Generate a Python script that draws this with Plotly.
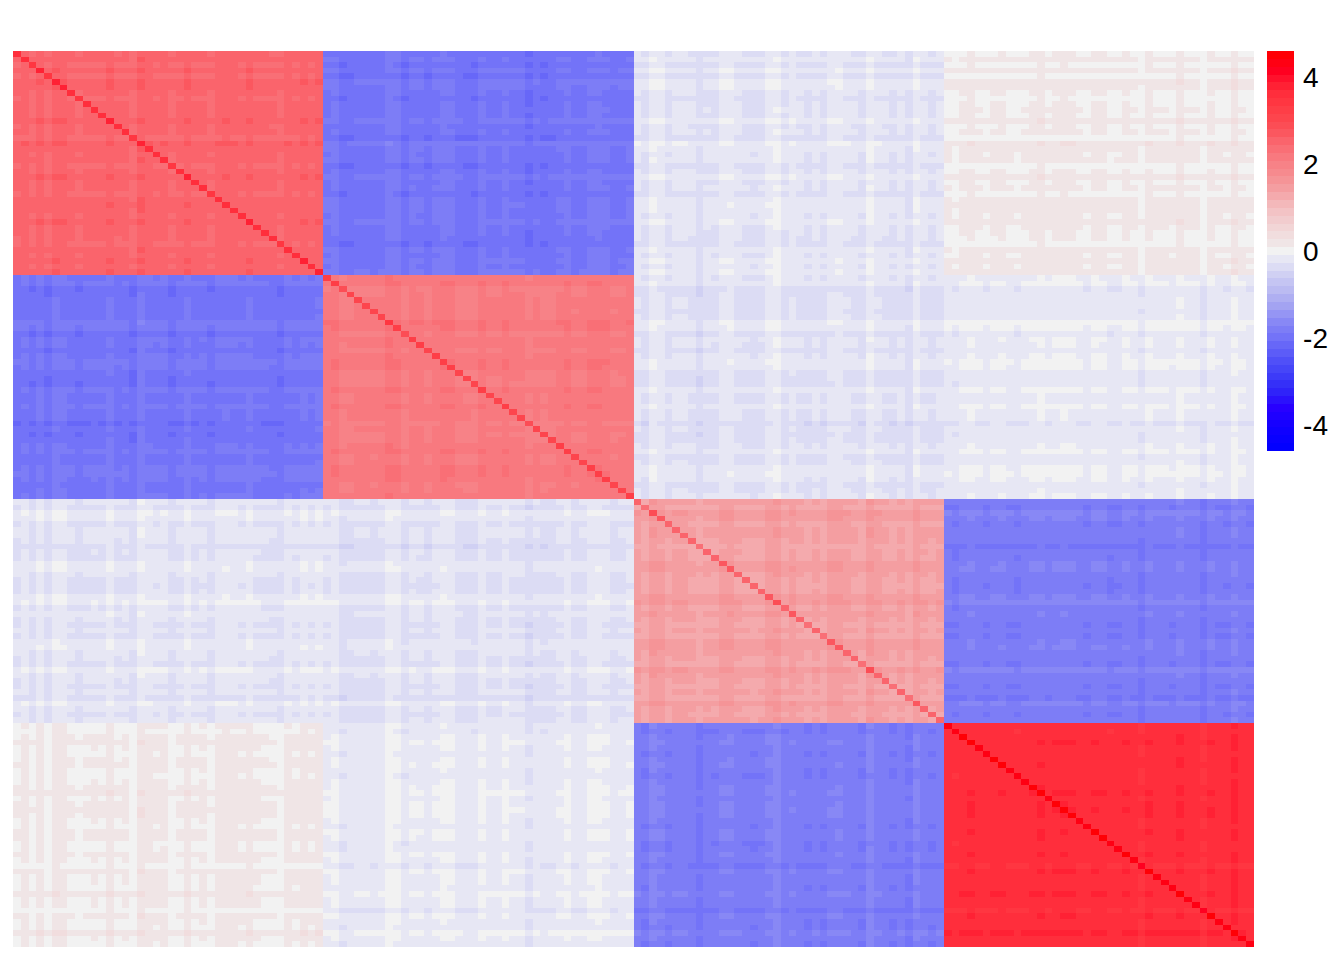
import numpy as np
import plotly.graph_objects as go

# Estimated by eye from the reference. The 160x160 grid is NOT a cell-by-cell
# transcription: each cell is its block level plus the row and column stripe
# offsets (the matrix is visibly symmetric).
LEVELS = [
    [2.50, -1.93, -0.20, 0.11],
    [-1.93, 2.14, -0.24, -0.15],
    [-0.20, -0.24, 1.44, -1.80],
    [0.11, -0.15, -1.80, 3.60],
]
DIAGONAL = [3.6, 3.15, 2.6, 4.4]
STRIPE_GAIN = 1.25

STRIPES_1 = [-0.03, 0.02, -0.06, 0.04, -0.07, 0.06, 0.04, -0.02, -0.06, -0.02,
             -0.01, -0.02, 0.07, -0.03, -0.01, -0.08, 0.09, 0.02, 0.00, 0.01,
             -0.07, -0.02, 0.07, -0.02, 0.00, -0.06, 0.02, 0.03, 0.02, 0.00,
             0.06, -0.01, -0.02, -0.03, -0.07, 0.02, -0.01, 0.04, 0.00, 0.05]
STRIPES_2 = [0.02, 0.05, -0.08, -0.05, -0.02, -0.02, -0.03, -0.02, 0.09, 0.06,
             -0.07, 0.03, 0.02, -0.05, 0.03, 0.06, 0.05, -0.04, -0.05, -0.06,
             0.05, -0.01, -0.01, 0.05, 0.00, 0.00, -0.10, -0.02, -0.06, -0.04,
             0.01, 0.05, -0.03, -0.02, 0.05, 0.06, 0.04, -0.03, -0.01, 0.03]
STRIPES_3 = [0.00, -0.07, 0.08, 0.05, -0.06, 0.00, 0.00, -0.03, -0.12, -0.04,
             -0.05, 0.05, 0.06, -0.02, -0.05, -0.06, -0.05, 0.06, 0.10, -0.04,
             0.02, -0.03, -0.07, -0.01, -0.07, 0.03, 0.05, 0.00, -0.03, -0.07,
             0.09, 0.00, -0.03, -0.07, -0.01, -0.09, 0.07, -0.02, -0.06, -0.01]
STRIPES_4 = [-0.01, -0.04, 0.01, 0.05, 0.00, -0.02, 0.01, 0.02, -0.01, -0.03,
             0.00, 0.02, 0.06, 0.00, 0.03, 0.05, 0.04, 0.00, -0.02, 0.03,
             0.02, -0.03, -0.02, 0.03, 0.00, -0.07, 0.05, 0.00, 0.00, -0.01,
             0.07, 0.00, 0.00, -0.08, 0.04, -0.01, -0.02, 0.09, 0.00, -0.02]
TICK_VALUES = [4, 2, 0, -2, -4]
TICK_LABELS = ["4", "2", "0", "-2", "-4"]

ZMIN, ZMAX, BANDS = -4.6, 4.6, 51
RAMP = [(4.6, "FF0000"), (4.15, "FF0020"), (3.9, "FF1830"), (3.6, "FF2F3C"),
        (3.2, "FE4048"), (2.8, "FC5058"), (2.5, "FA666E"), (2.15, "F87A80"),
        (1.8, "F68A8E"), (1.4, "F4A0A3"), (1.0, "F3BEC0"), (0.6, "F2D2D4"),
        (0.2, "F0E4E5"), (0.0, "F2F2F2"), (-0.2, "E6E6F4"), (-0.4, "DADAF4"),
        (-0.6, "CCCCF3"), (-0.9, "BBBBF2"), (-1.2, "A8A8F2"), (-1.5, "9090F4"),
        (-1.75, "8080F6"), (-2.0, "7272F8"), (-2.4, "5858F8"), (-2.8, "4040F8"),
        (-3.2, "3028F8"), (-3.6, "2800FF"), (-4.0, "1400FF"), (-4.6, "0000FF")][::-1]

stop_v = [s[0] for s in RAMP]
stop_rgb = [[int(s[1][i:i + 2], 16) for i in (0, 2, 4)] for s in RAMP]
colorscale = []
for b in range(BANDS):
    centre = ZMIN + (b + 0.5) * (ZMAX - ZMIN) / BANDS
    rgb = [int(round(np.interp(centre, stop_v, [c[i] for c in stop_rgb]))) for i in range(3)]
    col = f"rgb({rgb[0]},{rgb[1]},{rgb[2]})"
    colorscale.append([b / BANDS, col])
    colorscale.append([(b + 1) / BANDS, col])

stripes = STRIPE_GAIN * np.array(STRIPES_1 + STRIPES_2 + STRIPES_3 + STRIPES_4)
groups = np.repeat(np.arange(4), 40)
z = np.array(LEVELS)[np.ix_(groups, groups)] + stripes[:, None] + stripes[None, :]
for i in range(len(stripes)):
    z[i, i] = DIAGONAL[groups[i]] + 2 * stripes[i]

fig = go.Figure(go.Heatmap(
    z=z, zmin=ZMIN, zmax=ZMAX, colorscale=colorscale, zsmooth=False,
    colorbar=dict(
        thickness=27, thicknessmode="pixels", len=400, lenmode="pixels",
        x=(1267 - 13) / 1241, xanchor="left", xref="paper",
        y=1, yanchor="top", yref="paper",
        xpad=0, ypad=0, outlinewidth=0, borderwidth=0,
        tickmode="array", tickvals=TICK_VALUES, ticktext=TICK_LABELS,
        ticks="outside", ticklen=4, tickwidth=1, tickcolor="rgba(0,0,0,0)",
        tickfont=dict(family="Liberation Sans", size=28, color="#000000"),
    ),
))
fig.update_layout(
    width=1330, height=950, autosize=False,
    margin=dict(l=5, r=84, t=43, b=11, pad=0),
    paper_bgcolor="white", plot_bgcolor="white",
    xaxis=dict(visible=False, range=[-0.5, 159.5]),
    yaxis=dict(visible=False, range=[159.5, -0.5]),
)
fig.write_html("out.html")
